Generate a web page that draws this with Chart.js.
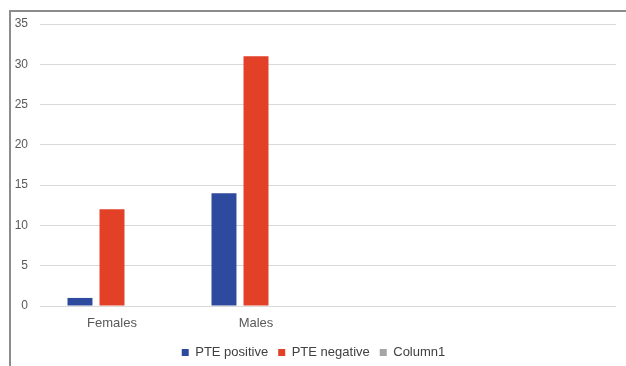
<!DOCTYPE html>
<html>
<head>
<meta charset="utf-8">
<script src="https://cdn.jsdelivr.net/npm/chart.js@4/dist/chart.umd.min.js"></script>
<style>
  html, body { margin: 0; padding: 0; background: #fff; overflow: hidden; }
  #frame {
    position: absolute; left: 9px; top: 10px;
    width: 615px; height: 357px;
    border-top: 2px solid #8c8c8c;
    border-left: 2px solid #8c8c8c;
  }
  #chart { display: block; }
</style>
</head>
<body>
<div id="frame"><canvas id="chart" width="615" height="357"></canvas></div>
<script>
const categories = ['Females', 'Males', '', ''];
const ptePositive = [1, 14, null, null];
const pteNegative = [12, 31, null, null];
const column1 = [null, null, null, null];
const yTicks = [0, 5, 10, 15, 20, 25, 30, 35];

const ctx = document.getElementById('chart');

const data = {
  labels: categories,
  datasets: [{
    label: 'PTE positive',
    data: ptePositive,
    backgroundColor: '#2e4a9e'
  }, {
    label: 'PTE negative',
    data: pteNegative,
    backgroundColor: '#e34127'
  }, {
    label: 'Column1',
    data: column1,
    backgroundColor: '#a5a5a5'
  }]
};

const config = {
  type: 'bar',
  data: data,
  options: {
    responsive: false,
    animation: false,
    datasets: {
      bar: { categoryPercentage: 0.667, barPercentage: 0.78 }
    },
    layout: { padding: { top: 12, right: 10, left: 0, bottom: 0 } },
    plugins: {
      tooltip: { enabled: false },
      legend: {
        position: 'bottom',
        labels: {
          boxWidth: 7,
          boxHeight: 7,
          padding: 10,
          color: '#404040',
          font: { family: 'Liberation Sans', size: 13 }
        }
      }
    },
    scales: {
      x: {
        grid: { display: false },
        border: { display: false },
        ticks: {
          padding: 2,
          color: '#595959',
          font: { family: 'Liberation Sans', size: 13 }
        },
        afterFit: s => { s.height = 30; s.paddingLeft = 0; s.paddingRight = 0; }
      },
      y: {
        min: 0,
        max: 35,
        afterBuildTicks: s => { s.ticks = yTicks.map(v => ({ value: v })); },
        grid: { color: '#d9d9d9', drawTicks: false },
        border: { display: false },
        ticks: {
          padding: 12,
          color: '#595959',
          font: { family: 'Liberation Sans', size: 12 }
        },
        afterFit: s => { s.width = 29; s.paddingTop = 0; s.paddingBottom = 0; }
      }
    }
  }
};

const myChart = new Chart(ctx, config);
</script>
</body>
</html>
